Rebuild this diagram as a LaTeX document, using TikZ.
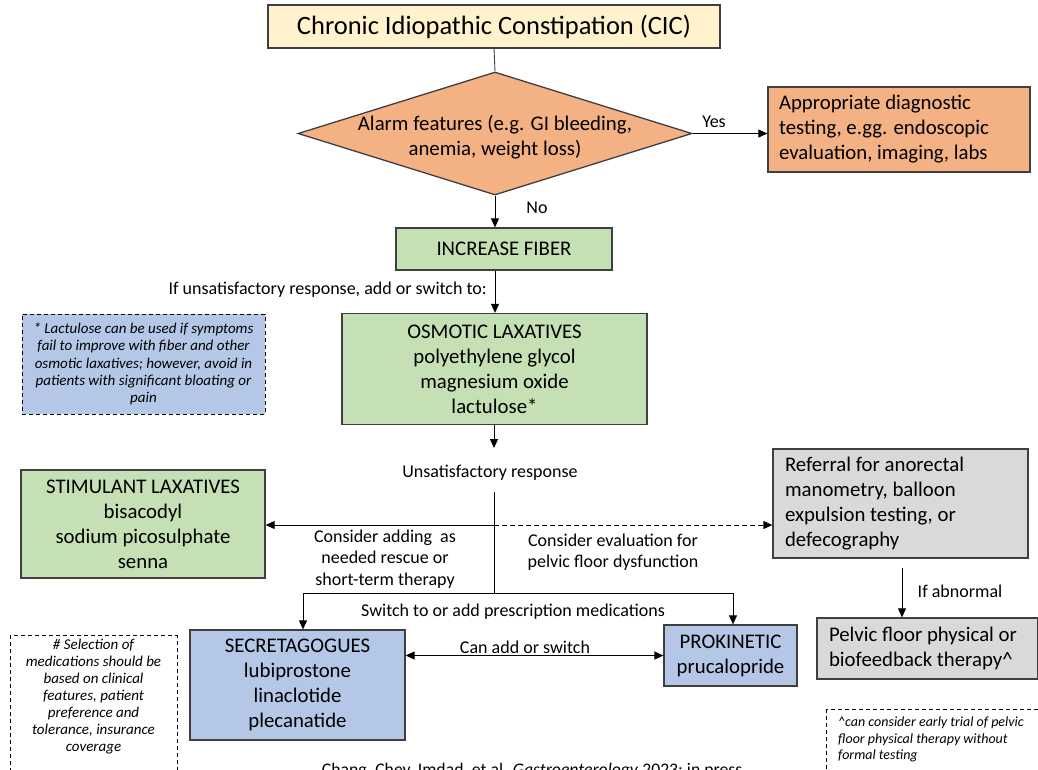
\documentclass[tikz,border=0pt]{standalone}
\usepackage{fontspec}
\setmainfont{Carlito}
\usetikzlibrary{shapes.geometric,arrows.meta}
\definecolor{bordercol}{HTML}{3F3F3F}
\definecolor{cicyellow}{HTML}{FFF2CC}
\definecolor{alarmorange}{HTML}{F4B183}
\definecolor{boxgreen}{HTML}{C5E0B4}
\definecolor{boxblue}{HTML}{B4C7E7}
\definecolor{boxgray}{HTML}{D9D9D9}
\tikzset{
 box/.style={draw=bordercol, line width=1.3pt, rectangle, inner sep=0pt, align=center},
 big/.style={font=\fontsize{20.8}{25}\selectfont},
 lbl/.style={font=\fontsize{18}{21.5}\selectfont, align=center, inner sep=0pt},
 note/.style={draw=black, dash pattern=on 4pt off 3pt, line width=1pt, font=\fontsize{15}{17.2}\selectfont\itshape, inner sep=0pt},
 notetxt/.style={font=\fontsize{15}{17}\selectfont\itshape, inner sep=0pt},
 arr/.style={-{Triangle[length=9pt,width=8pt]}, line width=0.9pt},
 darr/.style={{Triangle[length=9pt,width=8pt]}-{Triangle[length=9pt,width=8pt]}, line width=0.9pt},
 conn/.style={line width=0.9pt}
}
\begin{document}
\begin{tikzpicture}[x=1pt,y=-1pt]
\useasboundingbox (0,0) rectangle (1038,769);
\fill[white] (0,0) rectangle (1038,769);

% title
\node[box, fill=cicyellow, minimum width=452, minimum height=43, font=\fontsize{26.5}{30}\selectfont] (cic) at (494,26.5) {Chronic Idiopathic Constipation (CIC)};

% alarm diamond
\node[diamond, draw=bordercol, line width=1.3pt, fill=alarmorange, minimum width=394, minimum height=123, inner sep=0pt] (alarm) at (495,133.5) {};
\node[big, align=center, inner sep=0pt] (alarmtxt) at (495,137) {Alarm features (e.g. GI bleeding,\\anemia, weight loss)};
\draw[conn, draw=bordercol] (cic.south) -- (alarm.north);

\node[box, fill=alarmorange, minimum width=262, minimum height=85, text width=240, align=flush left, big] (diag) at (899,129.5) {Appropriate diagnostic\\testing, e.gg. endoscopic\\evaluation, imaging, labs};
\draw[arr] (alarm.east) -- (alarm.east -| diag.west);
\node[lbl] (yes) at (714,122) {Yes};

% fiber
\node[box, fill=boxgreen, minimum width=216, minimum height=42, big] (fiber) at (504,249) {INCREASE FIBER};
\draw[arr] (alarm.south) -- (alarm.south |- fiber.north);
\node[lbl] (no) at (537,208) {No};

% osmotic
\node[box, fill=boxgreen, minimum width=305, minimum height=111, big] (osm) at (494.5,369) {OSMOTIC LAXATIVES\\polyethylene glycol\\magnesium oxide\\lactulose*};
\draw[arr] (alarm.south |- fiber.south) -- (alarm.south |- osm.north);
\node[lbl, anchor=east] (ifunsat) at (487,290) {If unsatisfactory response, add or switch to:};

% lactulose note
\node[note, fill=boxblue, minimum width=243, minimum height=100, align=center] (n1) at (143.5,364) {* Lactulose can be used if symptoms\\fail to improve with fiber and other\\osmotic laxatives; however, avoid in\\patients with significant bloating or\\pain};

% unsatisfactory
\node[lbl] (unsat) at (490,473) {Unsatisfactory response};
\coordinate (c1) at (494,448);
\coordinate (c2) at (494,492);
\coordinate (mid) at (494,525);
\coordinate (split) at (494,593);
\draw[arr] (osm.south -| c1) -- (c1);
\draw[conn] (c2) -- (split);

\node[box, fill=boxgreen, minimum width=244, minimum height=108, big] (stim) at (143,524) {STIMULANT LAXATIVES\\bisacodyl\\sodium picosulphate\\senna};
\node[box, fill=boxgray, minimum width=255, minimum height=109, text width=231, align=flush left, big] (ref) at (900.5,503.5) {Referral for anorectal\\manometry, balloon\\expulsion testing, or\\defecography};
\draw[arr] (mid) -- (mid -| stim.east);
\draw[arr, dash pattern=on 5pt off 3pt] (mid) -- (mid -| ref.west);

\node[lbl] (rescue) at (385,559) {Consider adding\ \ as\\needed rescue or\\short-term therapy};
\node[lbl] (pelvic) at (613,552) {Consider evaluation for\\pelvic floor dysfunction};

% prescription
\node[box, fill=boxblue, minimum width=215, minimum height=110, big] (secr) at (297.5,685) {SECRETAGOGUES\\lubiprostone\\linaclotide\\plecanatide};
\node[box, fill=boxblue, minimum width=133, minimum height=61, big] (prok) at (730.5,655.5) {PROKINETIC\\prucalopride};
\coordinate (sl) at (303,593);
\coordinate (sr) at (733,593);
\draw[conn] (sl) -- (sr);
\draw[arr] (sl) -- (sl |- secr.north);
\draw[arr] (sr) -- (sr |- prok.north);
\node[lbl] (switch) at (513,612) {Switch to or add prescription medications};
\draw[darr] (secr.east |- prok.west) -- (prok.west);
\node[lbl] (canadd) at (525,647) {Can add or switch};

% pelvic floor
\node[box, fill=boxgray, minimum width=221, minimum height=61, text width=197, align=flush left, big] (pf) at (927.5,648.5) {Pelvic floor physical or\\biofeedback therapy\textasciicircum};
\coordinate (ab1) at (902,568);
\draw[arr] (ab1) -- (ab1 |- pf.north);
\node[lbl] (abn) at (960,591) {If abnormal};

% notes
\node[note, minimum width=167, minimum height=150, anchor=north] (n2) at (93.5,635) {};
\node[notetxt, anchor=north, align=center] (n2txt) at (93.5,638.5) {\# Selection of\\medications should be\\based on clinical\\features, patient\\preference and\\tolerance, insurance\\coverage};
\node[note, minimum width=230, minimum height=80, anchor=north west] (n3) at (826,709) {};
\node[notetxt, anchor=north west, align=flush left, font=\fontsize{14}{16.3}\selectfont\itshape] (n3txt) at (838,717) {\textasciicircum can consider early trial of pelvic\\floor physical therapy without\\formal testing};

% citation
\node[lbl, anchor=north, font=\fontsize{17.7}{20}\selectfont] (cite) at (532,763) {Chang, Chey, Imdad, et al. \textit{Gastroenterology} 2023; in press};
\end{tikzpicture}
\end{document}
